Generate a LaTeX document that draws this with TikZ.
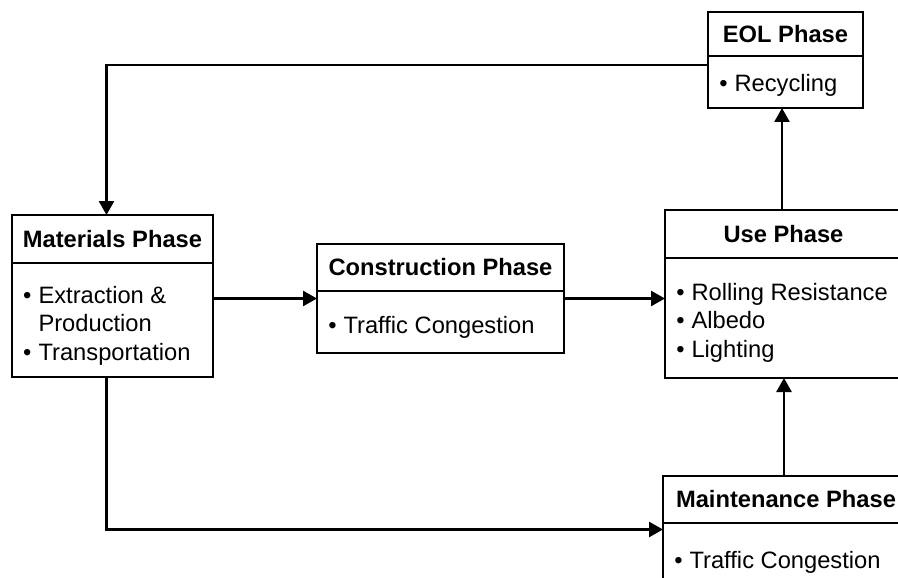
\documentclass[tikz,border=0pt]{standalone}
\usepackage{fontspec}
\setmainfont{Liberation Sans}
\usetikzlibrary{positioning, calc, arrows.meta}

\newcommand{\bullist}[1]{\begin{tabular}[t]{@{}l@{\hspace{7pt}}l@{}}#1\end{tabular}}

\begin{document}
\begin{tikzpicture}[x=1pt, y=-1pt, line width=2.5pt,
    head/.style={draw, inner sep=0pt, outer sep=0pt, anchor=north west,
      font=\fontsize{23.7}{28.8}\selectfont\bfseries},
    body/.style={draw, inner sep=0pt, outer sep=0pt, anchor=north},
    items/.style={inner sep=0pt, anchor=base west, font=\fontsize{23.7}{28.8}\selectfont},
    arr/.style={-{Triangle[length=14pt,width=15pt]}}]

    \useasboundingbox (0,0) rectangle (898,578);
    \clip (0,0) rectangle (898,578);

    % phase boxes: title on top, items below
    \node[head, minimum width=155pt, minimum height=44pt] (eolH) at (708,12) {EOL Phase};
    \node[body, minimum width=155pt, minimum height=52pt] (eolB) at (eolH.south) {};
    \node[items] (eolL) at ([shift={(10,36)}]eolB.north west)
      {\bullist{\textbullet & Recycling}};

    \node[head, minimum width=201pt, minimum height=48pt] (matH) at (12,215) {Materials Phase};
    \node[body, minimum width=201pt, minimum height=114pt] (matB) at (matH.south) {};
    \node[items] (matL) at ([shift={(10,40)}]matB.north west)
      {\bullist{\textbullet & Extraction \& \\ & Production \\ \textbullet & Transportation}};

    \node[head, minimum width=247pt, minimum height=47pt] (conH) at (317,244) {Construction Phase};
    \node[body, minimum width=247pt, minimum height=62pt] (conB) at (conH.south) {};
    \node[items] (conL) at ([shift={(10,42)}]conB.north west)
      {\bullist{\textbullet & Traffic Congestion}};

    \node[head, minimum width=237pt, minimum height=48pt] (useH) at (665,210) {Use Phase};
    \node[body, minimum width=237pt, minimum height=120pt] (useB) at (useH.south) {};
    \node[items] (useL) at ([shift={(10,42)}]useB.north west)
      {\bullist{\textbullet & Rolling Resistance \\ \textbullet & Albedo \\ \textbullet & Lighting}};

    \node[head, minimum width=246pt, minimum height=47pt] (mntH) at (663,476) {Maintenance Phase};
    \node[body, minimum width=246pt, minimum height=60pt] (mntB) at (mntH.south) {};
    \node[items] (mntL) at ([shift={(10,45)}]mntB.north west)
      {\bullist{\textbullet & Traffic Congestion}};

    % middles of the boxes
    \coordinate (conC) at ($(conH.north)!.5!(conB.south)$);
    \coordinate (mntC) at ($(mntH.north)!.5!(mntB.south)$);

    \draw[arr] ([yshift=-9pt]eolB.north west) -| ([xshift=-6pt]matH.north);
    \draw[arr] (matB.east |- conC) -- (conB.west |- conC);
    \draw[arr] (conB.east |- conC) -- (useB.west |- conC);
    \draw[arr] ([xshift=-1.5pt]useH.north) -- ([xshift=-1.5pt]useH.north |- eolB.south);
    \draw[arr] ([xshift=-2pt]mntH.north) -- ([xshift=-2pt]mntH.north |- useB.south);
    \draw[arr] ([xshift=-6pt]matB.south) |- (mntB.west |- mntC);
  \end{tikzpicture}
\end{document}
